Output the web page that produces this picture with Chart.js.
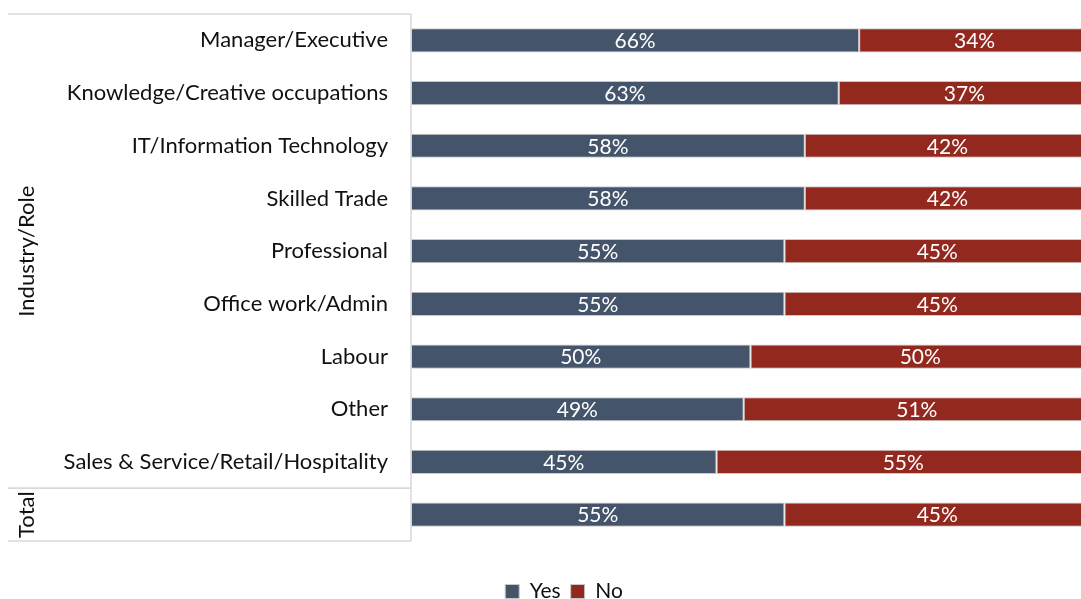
<!DOCTYPE html>
<html>
<head>
<meta charset="utf-8">
<script src="https://cdn.jsdelivr.net/npm/chart.js@4.4.1/dist/chart.umd.min.js"></script>
<style>
  html, body { margin: 0; padding: 0; background: #ffffff; overflow: hidden; }
  #wrap { position: relative; width: 1090px; height: 599px; }
</style>
</head>
<body>
<div id="wrap"><canvas id="chart"></canvas></div>
<script>
// Share answering Yes / No by industry or role, plus the overall total
const categories = [
  'Manager/Executive',
  'Knowledge/Creative occupations',
  'IT/Information Technology',
  'Skilled Trade',
  'Professional',
  'Office work/Admin',
  'Labour',
  'Other',
  'Sales & Service/Retail/Hospitality',
  ''
];
const yesValues = [66, 63, 58, 58, 55, 55, 50, 49, 45, 55];
const noValues  = [34, 37, 42, 42, 45, 45, 50, 51, 55, 45];
const seriesNames = ['Yes', 'No'];

// Row groups shown in the left-hand header column (index ranges into categories)
const groupNames = ['Industry/Role', 'Total'];
const groupStarts = [0, 9];
const groupEnds = [8, 9];

const FONT = 'Lato, "Open Sans", sans-serif';
const YES_COLOR = '#44546A';
const NO_COLOR = '#93281F';
const LINE_COLOR = '#d9d9d9';

// Value labels centred inside each bar segment
const segmentLabels = {
  id: 'segmentLabels',
  afterDatasetsDraw(chart) {
    const { ctx } = chart;
    ctx.save();
    ctx.fillStyle = '#ffffff';
    ctx.font = '21px ' + FONT;
    ctx.textAlign = 'center';
    ctx.textBaseline = 'middle';
    chart.data.datasets.forEach((ds, di) => {
      const meta = chart.getDatasetMeta(di);
      meta.data.forEach((bar, i) => {
        const v = ds.data[i];
        const cx = (bar.x + bar.base) / 2;
        ctx.fillText(v + '%', cx, bar.y + 1);
      });
    });
    ctx.restore();
  }
};

// Header column: frame lines and rotated group names
const groupFrame = {
  id: 'groupFrame',
  afterDraw(chart) {
    const { ctx, chartArea, scales } = chart;
    const y = scales.y;
    const x0 = 8;
    const x1 = chartArea.left;
    const half = (y.getPixelForValue(1) - y.getPixelForValue(0)) / 2;
    ctx.save();
    ctx.strokeStyle = LINE_COLOR;
    ctx.lineWidth = 1.5;
    ctx.beginPath();
    ctx.moveTo(x1, chartArea.top);
    ctx.lineTo(x1, chartArea.bottom);
    ctx.stroke();
    groupNames.forEach((name, g) => {
      const top = y.getPixelForValue(groupStarts[g]) - half;
      const bottom = y.getPixelForValue(groupEnds[g]) + half;
      ctx.beginPath();
      ctx.moveTo(x0, top);
      ctx.lineTo(x1, top);
      ctx.moveTo(x0, bottom);
      ctx.lineTo(x1, bottom);
      ctx.stroke();
      ctx.save();
      ctx.translate(27, (top + bottom) / 2);
      ctx.rotate(-Math.PI / 2);
      ctx.fillStyle = '#111111';
      ctx.font = '22px ' + FONT;
      ctx.textAlign = 'center';
      ctx.textBaseline = 'middle';
      ctx.fillText(name, 0, 0);
      ctx.restore();
    });
    ctx.restore();
  }
};

// Position the legend row beneath the plot
const legendPlacement = {
  id: 'legendPlacement',
  afterLayout(chart) {
    const lg = chart.legend;
    if (!lg) return;
    const dx = 19, dy = 30;
    lg.left += dx; lg.right += dx;
    lg.top += dy; lg.bottom += dy;
  }
};

new Chart(document.getElementById('chart'), {
  type: 'bar',
  data: {
    labels: categories,
    datasets: [
      { label: seriesNames[0], data: yesValues, backgroundColor: YES_COLOR, borderColor: '#c9c9c9', borderWidth: 1, borderSkipped: false },
      { label: seriesNames[1], data: noValues, backgroundColor: NO_COLOR, borderColor: '#c9c9c9', borderWidth: 1, borderSkipped: false }
    ]
  },
  options: {
    indexAxis: 'y',
    responsive: true,
    maintainAspectRatio: false,
    animation: false,
    layout: { padding: { top: 14, left: 0, right: 0, bottom: 17 } },
    datasets: { bar: { categoryPercentage: 1, barPercentage: 0.46 } },
    scales: {
      x: { stacked: true, min: 0, max: 100, display: false },
      y: {
        stacked: true,
        grid: { display: false, drawTicks: false },
        border: { display: false },
        ticks: { padding: 23, color: '#111111', font: { family: FONT, size: 22 } },
        afterFit(scale) {
          scale.width = 411;
          scale.paddingTop = 0;
          scale.paddingBottom = 0;
        }
      }
    },
    plugins: {
      legend: {
        position: 'bottom',
        labels: {
          boxWidth: 14, boxHeight: 14, padding: 10,
          color: '#111111',
          font: { family: FONT, size: 21 }
        }
      },
      tooltip: { enabled: false }
    }
  },
  plugins: [segmentLabels, groupFrame, legendPlacement]
});
</script>
</body>
</html>
